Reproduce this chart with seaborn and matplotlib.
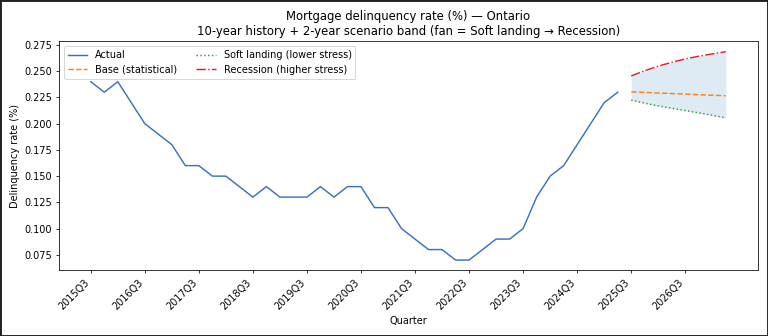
import numpy as np
import pandas as pd
import matplotlib
matplotlib.use("Agg")
import matplotlib.pyplot as plt
import seaborn as sns
from matplotlib.patches import Rectangle

# ---- data ----
hist_quarters = [f"{y}Q{q}" for y in range(2015, 2026) for q in range(1, 5)]
hist_quarters = hist_quarters[2:2 + 40]  # 2015Q3 .. 2025Q2
actual = [0.24, 0.23, 0.24, 0.22, 0.20, 0.19, 0.18, 0.16, 0.16, 0.15,
          0.15, 0.14, 0.13, 0.14, 0.13, 0.13, 0.13, 0.14, 0.13, 0.14,
          0.14, 0.12, 0.12, 0.10, 0.09, 0.08, 0.08, 0.07, 0.07, 0.08,
          0.09, 0.09, 0.10, 0.13, 0.15, 0.16, 0.18, 0.20, 0.22, 0.23]
fc_quarters = ["2025Q3", "2025Q4", "2026Q1", "2026Q2",
               "2026Q3", "2026Q4", "2027Q1", "2027Q2"]
base = [0.2303, 0.2298, 0.2292, 0.2287, 0.2282, 0.2276, 0.2271, 0.2266]
soft = [0.2225, 0.2195, 0.2170, 0.2147, 0.2125, 0.2103, 0.2080, 0.2055]
recession = [0.2455, 0.2505, 0.2548, 0.2585, 0.2617, 0.2643, 0.2665, 0.2686]

all_quarters = hist_quarters + fc_quarters
pos = {q: i for i, q in enumerate(all_quarters)}

hist_df = pd.DataFrame({"x": [pos[q] for q in hist_quarters], "y": actual})
fc_x = [pos[q] for q in fc_quarters]
fc_df = pd.DataFrame({"x": fc_x, "base": base, "soft": soft, "rec": recession})

# ---- plot ----
dpi = 768 / 11
fig, ax = plt.subplots(figsize=(11, 336 / dpi), dpi=dpi)

sns.lineplot(data=hist_df, x="x", y="y", ax=ax, color="#3a73bd", lw=1.5, label="Actual")
sns.lineplot(data=fc_df, x="x", y="base", ax=ax, color="#ff7f0e", lw=1.5,
             linestyle="--", label="Base (statistical)")
sns.lineplot(data=fc_df, x="x", y="soft", ax=ax, color="#2ca02c", lw=1.5,
             linestyle=":", label="Soft landing (lower stress)")
sns.lineplot(data=fc_df, x="x", y="rec", ax=ax, color="#d62728", lw=1.5,
             linestyle="-.", label="Recession (higher stress)")
ax.fill_between(fc_df["x"], fc_df["soft"], fc_df["rec"], color="#1f77b4",
                alpha=0.14, lw=0)

tick_idx = list(range(0, len(all_quarters), 4))
ax.set_xticks(tick_idx)
ax.set_xticklabels([all_quarters[i] for i in tick_idx], rotation=45, ha="right")
ax.set_yticks([0.075, 0.100, 0.125, 0.150, 0.175, 0.200, 0.225, 0.250, 0.275])
ax.set_yticklabels([f"{v:.3f}" for v in ax.get_yticks()])
ax.set_xlabel("Quarter")
ax.set_ylabel("Delinquency rate (%)")
ax.set_title("Mortgage delinquency rate (%) — Ontario\n"
             "10-year history + 2-year scenario band (fan = Soft landing → Recession)")
ax.legend(loc="upper left", ncol=2)

fig.tight_layout()
fig.patches.append(Rectangle((0, 0), 1, 1, transform=fig.transFigure, fill=False,
                             edgecolor="#222222", lw=3))
fig.savefig("out.png", dpi=dpi)
